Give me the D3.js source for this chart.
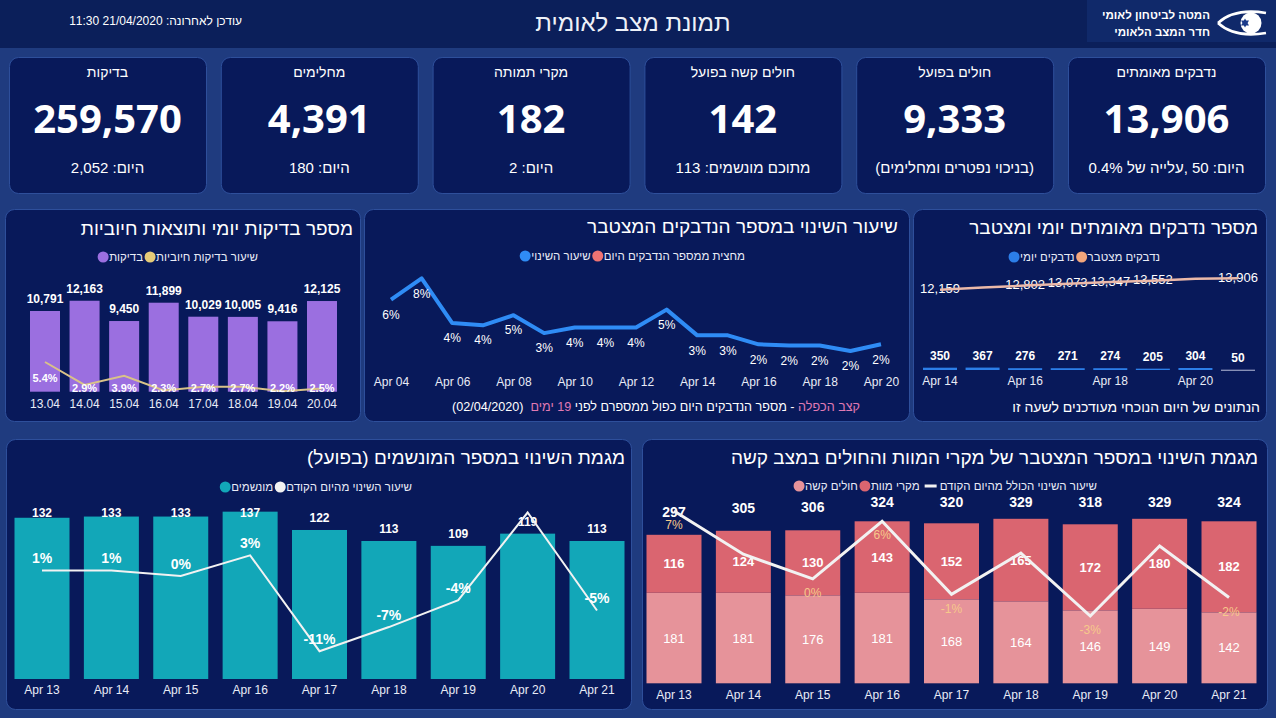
<!DOCTYPE html>
<html lang="he"><head><meta charset="utf-8">
<script src="https://cdn.jsdelivr.net/npm/d3@7"></script>
<style>
html,body{margin:0;padding:0;background:#1f3b7f;overflow:hidden;}
svg{display:block;}
</style></head>
<body>
<svg id="chart" width="1276" height="718"></svg>
<script>
// ================= DATA =================
const headerTitle = "תמונת מצב לאומית";
const updatedText = "עודכן לאחרונה: 21/04/2020 11:30";
const logoLines = ["המטה לביטחון לאומי", "חדר המצב הלאומי"];

// KPI cards, listed right to left
const kpiTitles = ["נדבקים מאומתים", "חולים בפועל", "חולים קשה בפועל", "מקרי תמותה", "מחלימים", "בדיקות"];
const kpiValues = [13906, 9333, 142, 182, 4391, 259570];
const kpiSubtexts = ["היום: 50 ,עלייה של 0.4%", "(בניכוי נפטרים ומחלימים)", "מתוכם מונשמים: 113", "היום: 2", "היום: 180", "היום: 2,052"];

// Daily tests and positive rate
const testsTitle = "מספר בדיקות יומי ותוצאות חיוביות";
const testsLegend = ["שיעור בדיקות חיוביות", "בדיקות"];
const testDates = ["13.04", "14.04", "15.04", "16.04", "17.04", "18.04", "19.04", "20.04"];
const testCounts = [10791, 12163, 9450, 11899, 10029, 10005, 9416, 12125];
const positiveRate = [5.4, 2.9, 3.9, 2.3, 2.7, 2.7, 2.2, 2.5];

// Rate of change of cumulative confirmed
const growthTitle = "שיעור השינוי במספר הנדבקים המצטבר";
const growthLegend = ["מחצית ממספר הנדבקים היום", "שיעור השינוי"];
const growthDates = ["Apr 04", "Apr 05", "Apr 06", "Apr 07", "Apr 08", "Apr 09", "Apr 10", "Apr 11", "Apr 12",
                     "Apr 13", "Apr 14", "Apr 15", "Apr 16", "Apr 17", "Apr 18", "Apr 19", "Apr 20"];
const growthRate = [6.1, 8.0, 4.0, 3.8, 4.7, 3.1, 3.6, 3.6, 3.6, 5.2, 2.9, 2.9, 2.1, 2.0, 2.0, 1.5, 2.1];
const growthTicks = ["Apr 04", "Apr 06", "Apr 08", "Apr 10", "Apr 12", "Apr 14", "Apr 16", "Apr 18", "Apr 20"];
const growthFooter = ["קצב הכפלה", " - מספר הנדבקים היום כפול ממספרם לפני ", "19 ימים", "  (02/04/2020)"];

// Daily and cumulative confirmed
const confTitle = "מספר נדבקים מאומתים יומי ומצטבר";
const confLegend = ["נדבקים מצטבר", "נדבקים יומי"];
const confDates = ["Apr 14", "Apr 15", "Apr 16", "Apr 17", "Apr 18", "Apr 19", "Apr 20", "Apr 21"];
const confDaily = [350, 367, 276, 271, 274, 205, 304, 50];
const confCumulative = [12159, 12526, 12802, 13073, 13347, 13552, 13856, 13906];
const confCumLabelShown = [true, false, true, true, true, true, false, true];
const confTicks = ["Apr 14", "Apr 16", "Apr 18", "Apr 20"];
const confFooter = "הנתונים של היום הנוכחי מעודכנים לשעה זו";

// Ventilated
const ventTitle = "מגמת השינוי במספר המונשמים (בפועל)";
const ventLegend = ["שיעור השינוי מהיום הקודם", "מונשמים"];
const ventDates = ["Apr 13", "Apr 14", "Apr 15", "Apr 16", "Apr 17", "Apr 18", "Apr 19", "Apr 20", "Apr 21"];
const ventValues = [132, 133, 133, 137, 122, 113, 109, 119, 113];
const ventChange = [0.8, 0.8, 0.0, 3.0, -10.9, -7.4, -3.5, 9.2, -5.0];
const ventChangeLabelShown = [true, true, true, true, true, true, true, false, true];

// Severe + deaths (stacked)
const severeTitle = "מגמת השינוי במספר המצטבר של מקרי המוות והחולים במצב קשה";
const severeLegend = ["שיעור השינוי הכולל מהיום הקודם", "מקרי מוות", "חולים קשה"];
const severeDates = ["Apr 13", "Apr 14", "Apr 15", "Apr 16", "Apr 17", "Apr 18", "Apr 19", "Apr 20", "Apr 21"];
const severeIll = [181, 181, 176, 181, 168, 164, 146, 149, 142];
const deaths = [116, 124, 130, 143, 152, 165, 172, 180, 182];
const totalChange = [6.9, 2.7, 0.3, 5.9, -1.2, 2.8, -3.3, 3.5, -1.5];
const totalChangeLabelShown = [true, false, true, true, true, false, true, false, true];

// ================= STYLE =================
const HEB = "'Liberation Sans', Arial, sans-serif";
const NUM = "'Open Sans', 'Liberation Sans', sans-serif";
const COL = {
  page: "#1f3b7f", header: "#0b1f5a", logo: "#10296a", panel: "#08195a", border: "#2e4f9b",
  text: "#ffffff", axis: "#e8ecf7",
  purple: "#9b6fe0", tan: "#d9c288", tanDot: "#e6cb78",
  blue: "#2f8cf5", salmon: "#ef7373",
  cumLine: "#ebb9a9", cumDot: "#f3a67c", dailyBar: "#2c7ee8", dailyLast: "#9aa2c4",
  teal: "#12a7b8", white: "#f2f2f2",
  severe: "#e6939a", death: "#da6570", pctOrange: "#f6c98b", pink: "#e07ab4"
};

const svg = d3.select("#chart");
const fmt = d3.format(",");
const pct = v => d3.format(".0f")(v).replace("\u2212", "-") + "%";

function text(g, x, y, s, o = {}) {
  const t = g.append("text")
    .attr("x", x).attr("y", y).attr("dy", "0.35em")
    .attr("text-anchor", "middle")
    .attr("direction", o.rtl ? "rtl" : "ltr")
    .style("font-family", o.font || HEB)
    .style("font-size", (o.size || 12) + "px")
    .style("font-weight", o.bold ? "700" : "400")
    .style("white-space", "pre")
    .attr("fill", o.color || COL.text)
    .text(s);
  if (o.align === "right" || o.align === "left") {
    const w = t.node().getComputedTextLength();
    t.attr("x", o.align === "right" ? x - w / 2 : x + w / 2);
  }
  return t;
}

function panel(x0, y0, x1, y1) {
  svg.append("rect").attr("x", x0 + 0.5).attr("y", y0 + 0.5)
    .attr("width", x1 - x0).attr("height", y1 - y0).attr("rx", 9)
    .attr("fill", COL.panel).attr("stroke", COL.border).attr("stroke-width", 1);
}

function legend(xRight, y, items) {
  let cx = xRight;
  items.forEach(it => {
    const t = text(svg, cx, y, it.name, { rtl: true, align: "right", size: 11.5, color: COL.axis });
    const left = cx - t.node().getComputedTextLength();
    if (it.line) {
      svg.append("line").attr("x1", left - 15).attr("x2", left - 3).attr("y1", y).attr("y2", y)
        .attr("stroke", it.color).attr("stroke-width", 3);
      cx = left - 20;
    } else {
      svg.append("circle").attr("cx", left - 6).attr("cy", y).attr("r", 5.5).attr("fill", it.color);
      cx = left - 13;
    }
  });
}

function bandScale(domain, firstCenter, lastCenter, bandwidth) {
  const step = (lastCenter - firstCenter) / (domain.length - 1);
  const pad = 1 - bandwidth / step;
  return d3.scaleBand().domain(domain)
    .range([firstCenter - step / 2, lastCenter + step / 2])
    .paddingInner(pad).paddingOuter(pad / 2);
}

function xAxis(scale, y, tickValues, size) {
  const ax = d3.axisBottom(scale).tickSize(0).tickPadding(0);
  if (tickValues) ax.tickValues(tickValues);
  const a = svg.append("g").attr("transform", `translate(0,${y})`).call(ax);
  a.select(".domain").remove();
  a.selectAll("text").attr("y", 0).attr("dy", "0.35em")
    .style("font-family", HEB).style("font-size", (size || 12) + "px").attr("fill", COL.axis);
}

// ================= BACKGROUND / HEADER =================
svg.append("rect").attr("width", 1276).attr("height", 718).attr("fill", COL.page);
svg.append("rect").attr("x", 0).attr("y", 0).attr("width", 1276).attr("height", 48).attr("fill", COL.header);
svg.append("rect").attr("x", 1087).attr("y", 0).attr("width", 189).attr("height", 42).attr("fill", COL.logo);

text(svg, 633, 23, headerTitle, { rtl: true, size: 24, color: "#eef1f8" });
text(svg, 242, 21, updatedText, { rtl: true, align: "right", size: 12 });
text(svg, 1210, 15, logoLines[0], { rtl: true, align: "right", size: 11.5, bold: true });
text(svg, 1210, 32, logoLines[1], { rtl: true, align: "right", size: 11.5, bold: true });

// eye logo
const eye = svg.append("g");
eye.append("path").attr("d", "M1218,23 C1230,12 1248,10 1266,13").attr("fill", "none").attr("stroke", "#ffffff").attr("stroke-width", 2.6);
eye.append("path").attr("d", "M1218,23 C1230,34 1248,36 1266,33").attr("fill", "none").attr("stroke", "#ffffff").attr("stroke-width", 2.6);
eye.append("circle").attr("cx", 1251).attr("cy", 23).attr("r", 10.5).attr("fill", "#ffffff");
eye.append("path").attr("d", "M1245,18.5 L1249,25.5 L1241,25.5 Z M1245,27.5 L1241,20.5 L1249,20.5 Z").attr("fill", "#1a3a8a");

// ================= KPI CARDS =================
kpiTitles.forEach((t, i) => {
  const x1 = 1265 - i * 211.8, x0 = x1 - 197, cx = (x0 + x1) / 2;
  panel(x0, 57, x1, 193);
  text(svg, cx, 72, t, { rtl: true, size: 14 });
  text(svg, cx, 119, fmt(kpiValues[i]), { font: NUM, size: 40, bold: true });
  text(svg, cx, 168, kpiSubtexts[i], { rtl: true, size: 15 });
});

// ================= PANEL A: tests =================
panel(5, 209, 360, 421);
text(svg, 353, 228, testsTitle, { rtl: true, align: "right", size: 19 });
legend(258, 257, [{ name: testsLegend[0], color: COL.tanDot }, { name: testsLegend[1], color: COL.purple }]);
{
  const x = bandScale(testDates, 45, 322, 30);
  const y = d3.scaleLinear().domain([0, 14000]).range([391.7, 287]);
  const y2 = d3.scaleLinear().domain([0, 6]).range([411.5, 356.5]);
  const cx = i => x(testDates[i]) + x.bandwidth() / 2;
  svg.append("g").selectAll("rect").data(testCounts).join("rect")
    .attr("x", (d, i) => x(testDates[i])).attr("y", d => y(d))
    .attr("width", x.bandwidth()).attr("height", d => y(0) - y(d)).attr("fill", COL.purple);
  testCounts.forEach((d, i) => text(svg, cx(i), y(d) - 12, fmt(d), { bold: true, size: 12 }));
  svg.append("path").datum(positiveRate)
    .attr("d", d3.line().x((d, i) => cx(i)).y(d => y2(d)))
    .attr("fill", "none").attr("stroke", COL.tan).attr("stroke-width", 2);
  positiveRate.forEach((d, i) => text(svg, cx(i), Math.min(y2(d) + 16, 388), d3.format(".1f")(d) + "%", { bold: true, size: 11 }));
  xAxis(x, 404, null, 12);
}

// ================= PANEL B: growth rate =================
panel(364, 209, 909, 421);
text(svg, 898, 226, growthTitle, { rtl: true, align: "right", size: 19 });
legend(745, 256, [{ name: growthLegend[0], color: COL.salmon }, { name: growthLegend[1], color: COL.blue }]);
{
  const x = d3.scalePoint().domain(growthDates).range([391, 881]);
  const y = d3.scaleLinear().domain([0, 8]).range([367.8, 278.3]);
  svg.append("path").datum(growthRate)
    .attr("d", d3.line().x((d, i) => x(growthDates[i])).y(d => y(d)))
    .attr("fill", "none").attr("stroke", COL.blue).attr("stroke-width", 4).attr("stroke-linejoin", "round");
  growthRate.forEach((d, i) => text(svg, x(growthDates[i]), y(d) + 15, pct(d), { size: 12 }));
  xAxis(x, 382, growthTicks, 12);
  const ft = svg.append("text").attr("x", 656).attr("y", 407).attr("dy", "0.35em")
    .attr("text-anchor", "middle").attr("direction", "rtl")
    .style("font-family", HEB).style("font-size", "12.6px").style("white-space", "pre");
  growthFooter.forEach((s, i) => ft.append("tspan").attr("fill", i % 2 === 0 ? COL.pink : COL.text).text(s));
  const w = ft.node().getComputedTextLength();
  ft.attr("x", 860 - w / 2);
}

// ================= PANEL C: confirmed =================
panel(913, 209, 1266, 421);
text(svg, 1258, 227, confTitle, { rtl: true, align: "right", size: 19 });
legend(1160, 257, [{ name: confLegend[0], color: COL.cumDot }, { name: confLegend[1], color: COL.dailyBar }]);
{
  const x = bandScale(confDates, 940, 1238, 34);
  const y = d3.scaleLinear().domain([0, 14000]).range([370, 277.7]);
  const cx = i => x(confDates[i]) + x.bandwidth() / 2;
  svg.append("g").selectAll("rect").data(confDaily).join("rect")
    .attr("x", (d, i) => x(confDates[i])).attr("y", d => y(d))
    .attr("width", x.bandwidth()).attr("height", d => Math.max(y(0) - y(d), 1.2))
    .attr("fill", (d, i) => i === confDaily.length - 1 ? COL.dailyLast : COL.dailyBar);
  confDaily.forEach((d, i) => text(svg, cx(i), y(d) - 12, fmt(d), { bold: true, size: 12 }));
  confCumulative.forEach((d, i) => { if (confCumLabelShown[i]) text(svg, cx(i), y(d) - 1, fmt(d), { size: 13 }); });
  svg.append("path").datum(confCumulative)
    .attr("d", d3.line().x((d, i) => cx(i)).y(d => y(d)))
    .attr("fill", "none").attr("stroke", COL.cumLine).attr("stroke-width", 2.5);
  xAxis(x, 381, confTicks, 12);
  text(svg, 1260, 407, confFooter, { rtl: true, align: "right", size: 14 });
}

// ================= PANEL D: ventilated =================
panel(6, 439, 631, 709);
text(svg, 625, 457, ventTitle, { rtl: true, align: "right", size: 19 });
legend(412, 487, [{ name: ventLegend[0], color: COL.white }, { name: ventLegend[1], color: COL.teal }]);
{
  const x = bandScale(ventDates, 42, 597, 55);
  const y = d3.scaleLinear().domain([0, 140]).range([679, 508]);
  const y2 = d3.scaleLinear().domain([-15, 15]).range([679.5, 472.5]);
  const cx = i => x(ventDates[i]) + x.bandwidth() / 2;
  svg.append("g").selectAll("rect").data(ventValues).join("rect")
    .attr("x", (d, i) => x(ventDates[i])).attr("y", d => y(d))
    .attr("width", x.bandwidth()).attr("height", d => y(0) - y(d)).attr("fill", COL.teal);
  ventValues.forEach((d, i) => text(svg, cx(i), Math.max(y(d) - 12, 513), fmt(d), { bold: true, size: 12 }));
  svg.append("path").datum(ventChange)
    .attr("d", d3.line().x((d, i) => cx(i)).y(d => y2(d)))
    .attr("fill", "none").attr("stroke", COL.white).attr("stroke-width", 2);
  ventChange.forEach((d, i) => { if (ventChangeLabelShown[i]) text(svg, cx(i), y2(d) - 12, pct(d), { bold: true, size: 14 }); });
  xAxis(x, 690, null, 12);
}

// ================= PANEL E: severe + deaths =================
panel(642, 439, 1267, 709);
text(svg, 1258, 457, severeTitle, { rtl: true, align: "right", size: 19 });
legend(1097, 486, [
  { name: severeLegend[0], color: COL.white, line: true },
  { name: severeLegend[1], color: COL.death },
  { name: severeLegend[2], color: COL.severe }
]);
{
  const x = bandScale(severeDates, 674, 1229, 55);
  const y = d3.scaleLinear().domain([0, 340]).range([683.3, 513.3]);
  const y2 = d3.scaleLinear().domain([-5, 10]).range([633.5, 479]);
  const cx = i => x(severeDates[i]) + x.bandwidth() / 2;
  const rows = severeDates.map((d, i) => ({ date: d, severe: severeIll[i], deaths: deaths[i] }));
  const stack = d3.stack().keys(["severe", "deaths"])(rows);
  const colors = { severe: COL.severe, deaths: COL.death };
  svg.append("g").selectAll("g").data(stack).join("g").attr("fill", s => colors[s.key])
    .selectAll("rect").data(s => s).join("rect")
    .attr("x", d => x(d.data.date)).attr("y", d => y(d[1]))
    .attr("width", x.bandwidth()).attr("height", d => y(d[0]) - y(d[1]));
  stack.forEach(s => s.forEach((d, i) => {
    text(svg, cx(i), (y(d[0]) + y(d[1])) / 2, fmt(d[1] - d[0]), { bold: s.key === "deaths", size: 13 });
  }));
  rows.forEach((r, i) => {
    const tot = r.severe + r.deaths;
    text(svg, cx(i), Math.max(y(tot) - 23, 502), fmt(tot), { bold: true, size: 14 });
  });
  svg.append("path").datum(totalChange)
    .attr("d", d3.line().x((d, i) => cx(i)).y(d => y2(d)))
    .attr("fill", "none").attr("stroke", COL.white).attr("stroke-width", 3);
  totalChange.forEach((d, i) => { if (totalChangeLabelShown[i]) text(svg, cx(i), y2(d) + 14, pct(d), { size: 12, color: COL.pctOrange }); });
  xAxis(x, 695, null, 12);
}
</script>
</body></html>
